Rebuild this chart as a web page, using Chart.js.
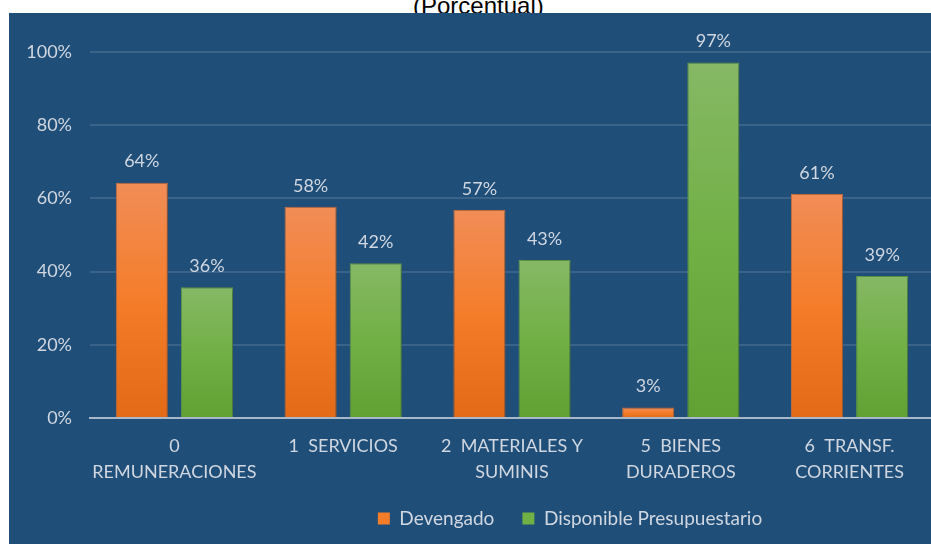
<!DOCTYPE html>
<html>
<head>
<meta charset="utf-8">
<script src="https://cdn.jsdelivr.net/npm/chart.js@4.4.1/dist/chart.umd.min.js"></script>
<style>
    html, body { margin: 0; padding: 0; background: #fff; overflow: hidden; width: 931px; height: 544px; }
    #titulo {
        position: absolute; left: 413px; top: -8px;
        font: 24px "Liberation Sans", Arial, sans-serif; color: #000; white-space: nowrap;
    }
    #panel {
        position: absolute; left: 9px; top: 13px; width: 1122px; height: 546px;
        background: #1f4e79;
    }
</style>
</head>
<body>
<div id="titulo">(Porcentual)</div>
<div id="panel"><canvas id="chart" width="1122" height="546"></canvas></div>
<script>
// datos
const categorias = [
    ["0", "REMUNERACIONES"],
    "1  SERVICIOS",
    ["2  MATERIALES Y", "SUMINIS"],
    ["5  BIENES", "DURADEROS"],
    ["6  TRANSF.", "CORRIENTES"]
];
const devengado = [64.3, 57.7, 56.8, 2.9, 61.2];
const disponible = [35.7, 42.3, 43.2, 97.1, 38.8];
const ticksY = [0, 20, 40, 60, 80, 100];

const colorTexto = "#d0d7e0";
const fuente = "Lato, 'Open Sans', sans-serif";

// degradado vertical por barra
function degradado(ctx, arriba, medio, abajo) {
    const chart = ctx.chart;
    const y = chart.scales.y;
    if (!chart.chartArea || !y || ctx.raw == null) return medio;
    const top = y.getPixelForValue(ctx.raw);
    const bottom = y.getPixelForValue(0);
    if (!isFinite(top) || bottom - top < 1) return medio;
    const g = chart.ctx.createLinearGradient(0, top, 0, bottom);
    g.addColorStop(0, arriba);
    g.addColorStop(0.5, medio);
    g.addColorStop(1, abajo);
    return g;
}

// sombra de las barras
const sombra = {
    id: "sombra",
    beforeDatasetDraw(chart) {
        const c = chart.ctx;
        c.save();
        c.shadowColor = "rgba(0,0,0,0.35)";
        c.shadowBlur = 6;
        c.shadowOffsetX = 2;
        c.shadowOffsetY = 1;
    },
    afterDatasetDraw(chart) {
        chart.ctx.restore();
    }
};

// etiquetas de valor
const etiquetas = {
    id: "etiquetas",
    afterDatasetsDraw(chart) {
        const c = chart.ctx;
        c.save();
        c.fillStyle = colorTexto;
        c.font = "18px " + fuente;
        c.textAlign = "center";
        c.textBaseline = "middle";
        chart.data.datasets.forEach((ds, i) => {
            chart.getDatasetMeta(i).data.forEach((bar, j) => {
                c.fillText(Math.round(ds.data[j]) + "%", bar.x, bar.y - 21);
            });
        });
        c.restore();
    }
};

new Chart(document.getElementById("chart"), {
    type: "bar",
    data: {
        labels: categorias,
        datasets: [
            {
                label: "Devengado",
                data: devengado,
                backgroundColor: ctx => degradado(ctx, "#f18d57", "#f47d2a", "#e36a17"),
                borderColor: "rgba(230,120,60,0.9)",
                borderWidth: 1,
                categoryPercentage: 0.772,
                barPercentage: 0.8
            },
            {
                label: "Disponible Presupuestario",
                data: disponible,
                backgroundColor: ctx => degradado(ctx, "#86b865", "#71b045", "#61a033"),
                borderColor: "rgba(110,170,70,0.9)",
                borderWidth: 1,
                categoryPercentage: 0.772,
                barPercentage: 0.8
            }
        ]
    },
    options: {
        responsive: false,
        animation: false,
        layout: { padding: { top: 39, left: 0, right: 0, bottom: 21 } },
        plugins: {
            tooltip: { enabled: false },
            legend: {
                position: "bottom",
                labels: {
                    color: colorTexto,
                    font: { family: fuente, size: 19 },
                    boxWidth: 12,
                    boxHeight: 12,
                    padding: 28,
                    generateLabels(chart) {
                        const cols = ["#f47d2a", "#71b045"];
                        return chart.data.datasets.map((ds, i) => ({
                            text: ds.label,
                            fillStyle: cols[i],
                            strokeStyle: cols[i],
                            lineWidth: 0,
                            fontColor: colorTexto,
                            datasetIndex: i
                        }));
                    }
                }
            }
        },
        scales: {
            x: {
                afterFit(s) { s.height = 63; },
                grid: { display: false, drawTicks: false },
                border: { color: "#a9b8c8", width: 2 },
                ticks: {
                    color: colorTexto,
                    font: { family: fuente, size: 18, lineHeight: 1.45 },
                    padding: 15,
                    maxRotation: 0,
                    autoSkip: false
                }
            },
            y: {
                min: 0,
                max: 100,
                afterFit(s) { s.width = 81; },
                afterBuildTicks(s) { s.ticks = ticksY.map(v => ({ value: v })); },
                grid: { color: "rgba(255,255,255,0.12)", lineWidth: 2, drawTicks: false },
                border: { display: false },
                ticks: {
                    color: colorTexto,
                    font: { family: fuente, size: 18 },
                    padding: 18,
                    callback: v => v + "%"
                }
            },
            derecha: {
                position: "right",
                display: true,
                afterFit(s) { s.width = 197; },
                grid: { display: false, drawTicks: false },
                border: { display: false },
                ticks: { display: false }
            }
        }
    },
    plugins: [sombra, etiquetas]
});
</script>
</body>
</html>
